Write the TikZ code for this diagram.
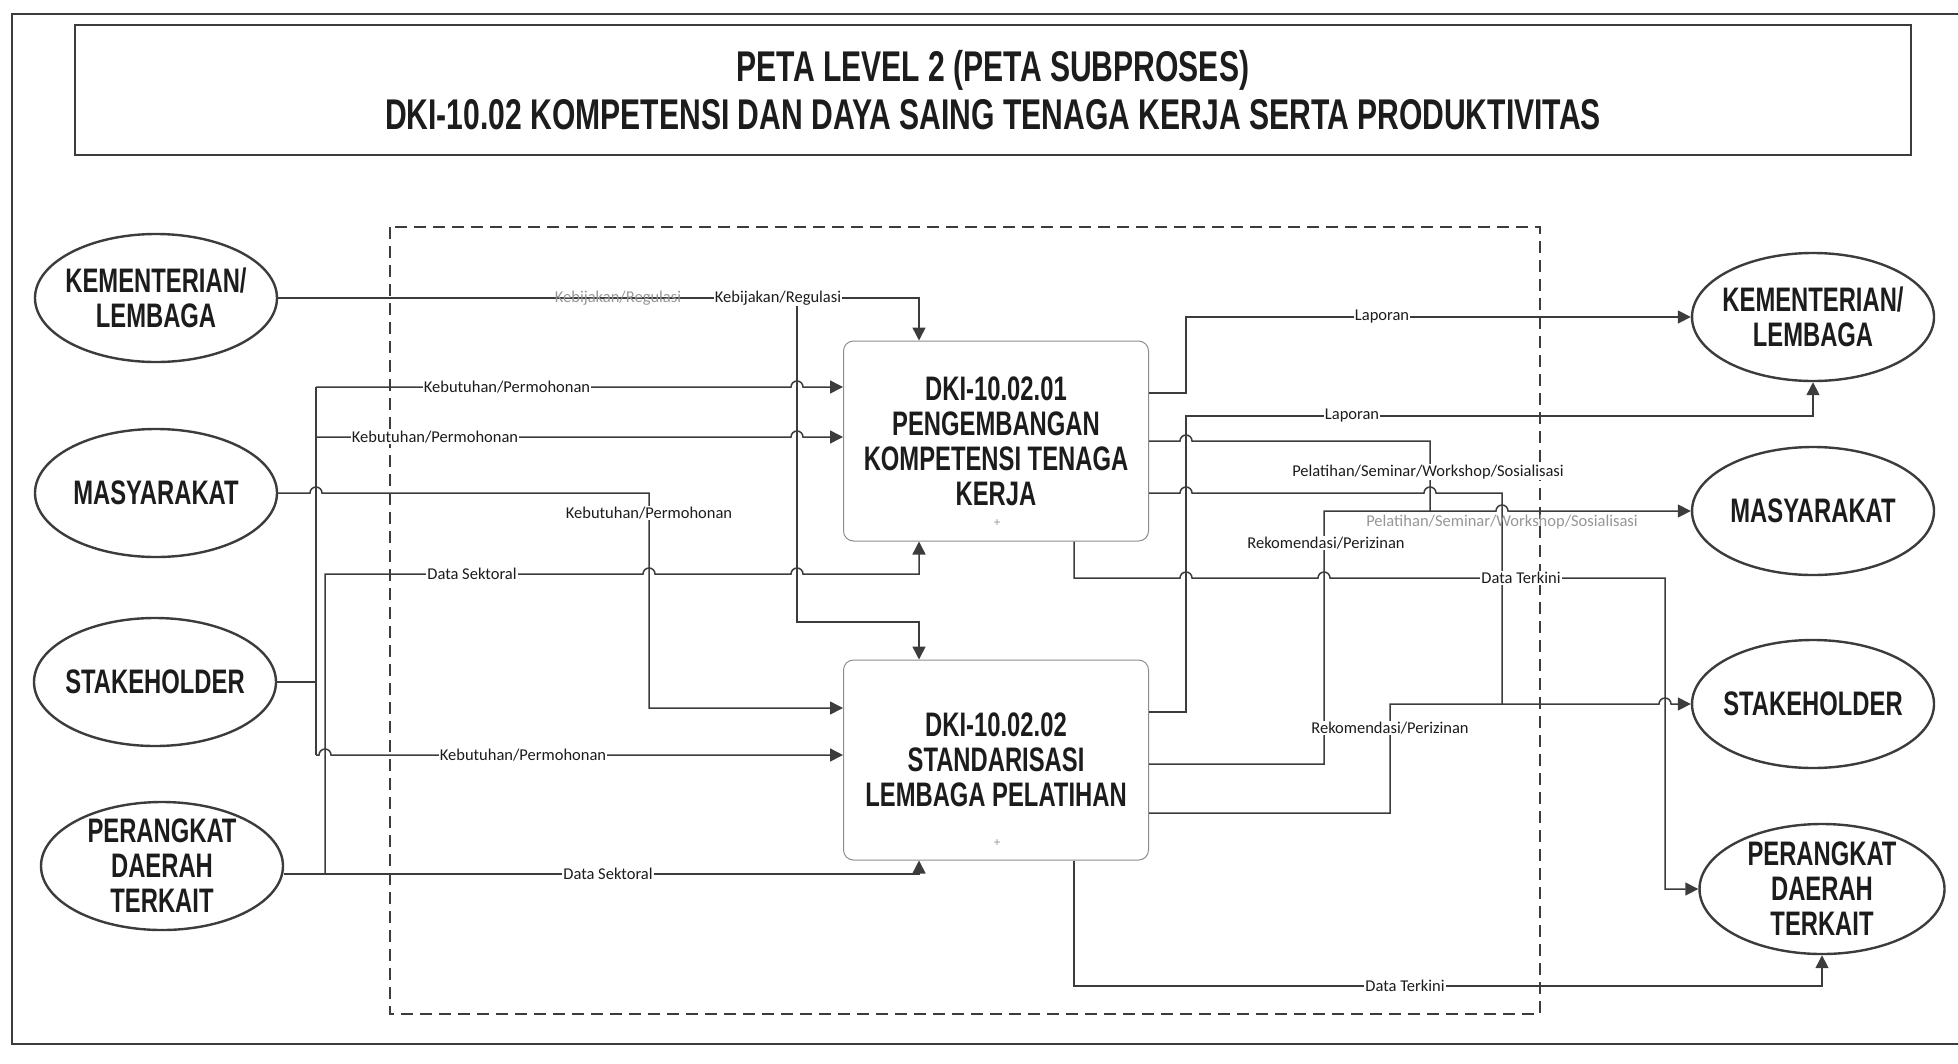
\documentclass[tikz,border=0pt]{standalone}
\usepackage{fontspec}
\setmainfont{Liberation Sans}
\newfontfamily\narrowfont[FakeStretch=0.70]{Liberation Sans}
\newfontfamily\flowfont{Carlito}
\usetikzlibrary{arrows.meta,shapes.geometric}
\definecolor{LineGray}{RGB}{60,60,60}
\definecolor{InkBlack}{RGB}{28,28,28}
\definecolor{BoxGray}{RGB}{140,140,140}
\definecolor{FadeGray}{RGB}{150,150,150}
\tikzset{
  party/.style={ellipse,draw=LineGray,line width=2.4pt,minimum width=242pt,
    minimum height=128pt,inner sep=0pt},
  partytext/.style={align=center,text=InkBlack,inner sep=0pt,
    font=\narrowfont\bfseries\fontsize{34}{35}\selectfont},
  process/.style={draw=BoxGray,rounded corners=10pt,line width=1pt,
    minimum width=305pt,minimum height=200pt,align=center,text=InkBlack,
    font=\narrowfont\bfseries\fontsize{34}{35}\selectfont},
  flow/.style={-{Triangle[length=13pt,width=13pt]},line width=1.5pt,LineGray},
  wire/.style={line width=1.5pt,LineGray},
  tag/.style={fill=white,inner sep=1pt,text=InkBlack,
    font=\flowfont\fontsize{16.5}{18}\selectfont},
  ghost/.style={inner sep=1pt,text=FadeGray,
    font=\flowfont\fontsize{16.5}{18}\selectfont}
}
\newcommand{\hopat}[2]{-- ({#1-6},#2) arc[start angle=180,end angle=360,radius=6]}

\begin{document}
\begin{tikzpicture}[x=1pt,y=-1pt]
\useasboundingbox (0,0) rectangle (1958,1063);

% Frame and title
\draw[LineGray,line width=2.6pt] (1958,14) -- (12,14) -- (12,1044) -- (1958,1044);
\node[draw=LineGray,line width=1.6pt,minimum width=1836pt,minimum height=130pt,
  align=center,text=InkBlack,font=\narrowfont\bfseries\fontsize{43}{48}\selectfont]
  (title) at (993,90) {PETA LEVEL 2 (PETA SUBPROSES)\\DKI-10.02 KOMPETENSI DAN DAYA SAING TENAGA KERJA SERTA PRODUKTIVITAS};

% Process boundary
\draw[LineGray,line width=1.3pt,dash pattern=on 12pt off 7pt] (390,227) rectangle (1540,1014);

% Left parties
\node[party,label={[partytext]center:KEMENTERIAN/\\LEMBAGA}] (kmL) at (156,298) {};
\node[party,label={[partytext]center:MASYARAKAT}] (msL) at (156,493) {};
\node[party,label={[partytext]center:STAKEHOLDER}] (skL) at (155,682) {};
\node[party,label={[partytext]center:PERANGKAT\\DAERAH\\TERKAIT}] (pdL) at (162,866) {};

% Right parties
\node[party,label={[partytext]center:KEMENTERIAN/\\LEMBAGA}] (kmR) at (1813,317) {};
\node[party,label={[partytext]center:MASYARAKAT}] (msR) at (1813,511) {};
\node[party,label={[partytext]center:STAKEHOLDER}] (skR) at (1813,704) {};
\node[party,minimum width=245pt,minimum height=130pt,
  label={[partytext]center:PERANGKAT\\DAERAH\\TERKAIT}] (pdR) at (1822,889) {};

% Subprocesses
\node[process] (p1) at (996,441) {DKI-10.02.01\\PENGEMBANGAN\\KOMPETENSI TENAGA\\KERJA};
\node[process] (p2) at (996,760) {DKI-10.02.02\\STANDARISASI\\LEMBAGA PELATIHAN};
\node[text=FadeGray,font=\fontsize{12}{12}\selectfont] (m1) at (997,523) {+};
\node[text=FadeGray,font=\fontsize{12}{12}\selectfont] (m2) at (997,843) {+};

% Kebijakan/Regulasi
\coordinate (kbsplit) at (797,298);
\draw[flow] (kmL.east) -| ([xshift=-77pt]p1.north);
\draw[flow] (kbsplit) -- (797,622) -| ([xshift=-77pt]p2.north);

% Kebutuhan/Permohonan (stakeholder bus)
\coordinate (sk1) at (316,387);
\coordinate (sk2) at (316,437);
\coordinate (sk3) at (316,755);
\draw[wire] (skL.east) -- (skL.east -| sk1);
\draw[wire] (sk1) -- (sk3);
\draw[flow] (sk1) \hopat{797}{387} -- (sk1 -| p1.west);
\draw[flow] (sk2) \hopat{797}{437} -- (sk2 -| p1.west);
\draw[flow] (sk3) \hopat{325}{755} -- (sk3 -| p2.west);

% Kebutuhan/Permohonan (masyarakat)
\draw[flow] (msL.east) \hopat{316}{493} -- (649,493) |- ([yshift=52pt]p2.west);

% Data Sektoral
\coordinate (pd1) at (325,874);
\draw[flow] ([yshift=-8pt]pdL.east) -| ([xshift=-77pt]p2.south);
\draw[flow] (pd1) -- (325,574) \hopat{649}{574} \hopat{797}{574} -| ([xshift=-77pt]p1.south);

% Laporan
\draw[flow] ([yshift=48pt]p1.east) -| (1186,317) -- (kmR.west);
\draw[flow] ([yshift=48pt]p2.east) -| (1186,416) -| (kmR.south);

% Pelatihan/Seminar/Workshop/Sosialisasi
\draw[wire] (p1.east) \hopat{1186}{441} -- (1430,441) -- (1430,511);
\draw[wire] ([yshift=-52pt]p1.east) \hopat{1186}{493} \hopat{1430}{493} -- (1502,493) -- (1502,704);

% Rekomendasi/Perizinan
\draw[flow] ([yshift=-4pt]p2.east) -| (1324,511) \hopat{1502}{511} -- (msR.west);
\draw[flow] ([yshift=-53pt]p2.east) -| (1390,704) \hopat{1665}{704} -- (skR.west);

% Data Terkini
\draw[flow] ([xshift=78pt]p1.south) -- (1074,578) \hopat{1186}{578} \hopat{1324}{578} -- (1665,578) |- (pdR.west);
\draw[flow] ([xshift=78pt]p2.south) -- (1074,986) -| (pdR.south);

% Labels
\node[ghost] (lb1) at (618,298) {Kebijakan/Regulasi};
\node[tag] (lb2) at (778,298) {Kebijakan/Regulasi};
\node[tag] (lb3) at (507,387) {Kebutuhan/Permohonan};
\node[tag] (lb4) at (435,437) {Kebutuhan/Permohonan};
\node[tag] (lb5) at (649,513) {Kebutuhan/Permohonan};
\node[tag] (lb6) at (523,755) {Kebutuhan/Permohonan};
\node[tag] (lb7) at (472,574) {Data Sektoral};
\node[tag] (lb8) at (608,874) {Data Sektoral};
\node[tag] (lb9) at (1382,317) {Laporan};
\node[tag] (lb10) at (1352,416) {Laporan};
\node[tag] (lb11) at (1428,472) {Pelatihan/Seminar/Workshop/Sosialisasi};
\node[ghost] (lb12) at (1502,522) {Pelatihan/Seminar/Workshop/Sosialisasi};
\node[tag] (lb13) at (1326,543) {Rekomendasi/Perizinan};
\node[tag] (lb14) at (1390,728) {Rekomendasi/Perizinan};
\node[tag] (lb15) at (1521,578) {Data Terkini};
\node[tag] (lb16) at (1405,986) {Data Terkini};

\end{tikzpicture}
\end{document}
